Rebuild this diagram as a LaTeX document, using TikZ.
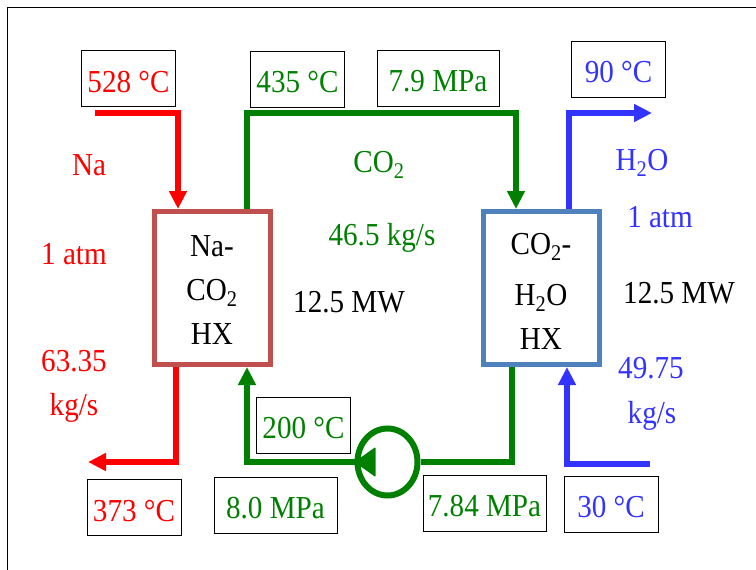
\documentclass[tikz,border=0pt]{standalone}
\usepackage{fontspec}
\setmainfont{Liberation Serif}[FakeStretch=0.91]
\usetikzlibrary{arrows.meta,shapes.geometric}
\definecolor{naRed}{RGB}{255,0,0}
\definecolor{coGreen}{RGB}{0,128,0}
\definecolor{waterBlue}{RGB}{51,51,255}
\definecolor{hxRed}{RGB}{192,80,77}
\definecolor{hxBlue}{RGB}{79,129,189}

\begin{document}
\begin{tikzpicture}[x=1pt,y=-1pt, every node/.style={font=\fontsize{32}{44}\selectfont, inner sep=0pt},
	valbox/.style={draw=black, line width=1pt, minimum height=56pt, text height=28pt},
	hxbox/.style={draw, line width=5pt, minimum width=116pt, minimum height=153pt, align=center},
	flow/.style={line width=6pt},
	flowarrow/.style={flow, -{Triangle[length=18pt,width=17pt]}},]
\useasboundingbox (0,0) rectangle (756,570);
\draw[line width=1pt] (7,570) -- (7,7) -- (756,7);

\node[hxbox, draw=hxRed, text height=113pt] (naHX) at (212,288) {Na-\\CO\textsubscript{2}\\HX};
\node[hxbox, draw=hxBlue, text height=123pt] (coHX) at (541,288) {CO\textsubscript{2}-\\[7pt]H\textsubscript{2}O\\HX};
\node[ellipse, draw=coGreen, line width=6pt, minimum width=60pt, minimum height=67pt] (pump) at (387.5,462) {};

\node[valbox, text=naRed, minimum width=94pt] (naInT) at (128.5,78.5) {528 °C};
\node[valbox, text=naRed, minimum width=94pt] (naOutT) at (134,507.5) {373 °C};
\node[valbox, text=coGreen, minimum width=94pt] (coHotT) at (297.5,79) {435 °C};
\node[valbox, text=coGreen, minimum width=122pt] (coHotP) at (438,78) {7.9 MPa};
\node[valbox, text=coGreen, minimum width=94pt] (coColdT) at (303.5,425) {200 °C};
\node[valbox, text=coGreen, minimum width=123pt] (coColdP) at (275.5,505) {8.0 MPa};
\node[valbox, text=coGreen, minimum width=123pt] (coPumpP) at (484.5,503) {7.84 MPa};
\node[valbox, text=waterBlue, minimum width=94pt] (waterOutT) at (618.5,69) {90 °C};
\node[valbox, text=waterBlue, minimum width=94pt] (waterInT) at (611,504) {30 °C};

\node[text=naRed] (naName) at (89,165) {Na};
\node[text=naRed] (naPres) at (74,254) {1 atm};
\node[text=naRed] (naFlow) at (74,361) {63.35};
\node[text=naRed] (naUnit) at (74,408) {kg/s};
\node[text=coGreen] (coName) at (379,165) {CO\textsubscript{2}};
\node[text=coGreen] (coFlow) at (382,238) {46.5 kg/s};
\node (naPower) at (349,302) {12.5 MW};
\node[text=waterBlue] (waterName) at (642,163) {H\textsubscript{2}O};
\node[text=waterBlue] (waterPres) at (660,217) {1 atm};
\node (coPower) at (679,293) {12.5 MW};
\node[text=waterBlue] (waterFlow) at (651,368) {49.75};
\node[text=waterBlue] (waterUnit) at (652,416) {kg/s};

\coordinate (naStart) at (95,113);
\coordinate (naTurn) at (178,113);
\coordinate (naDrop) at (176,462);
\coordinate (naEnd) at (88,462);
\coordinate (coTopL) at (247,113);
\coordinate (coTopR) at (516,113);
\coordinate (coBotL) at (247,462);
\coordinate (coBotR) at (512,462);
\coordinate (waterTurn) at (569,113);
\coordinate (waterEnd) at (652,113);
\coordinate (waterStart) at (650,464);
\coordinate (waterRise) at (567,464);

\draw[flowarrow, naRed] (naStart) -- (naTurn) -- (naTurn |- naHX.north);
\draw[flowarrow, naRed] (naDrop |- naHX.south) -- (naDrop) -- (naEnd);
\draw[flowarrow, coGreen] (coTopL |- naHX.north) -- (coTopL) -- (coTopR) -- (coTopR |- coHX.north);
\draw[flowarrow, coGreen] (pump.west) -- (coBotL) -- (coBotL |- naHX.south);
\draw[flow, coGreen] (coBotR |- coHX.south) -- (coBotR) -- (pump.east);
\fill[coGreen, rounded corners=1pt] (pump.west) -- ++(21,-15) -- ++(0,30) -- cycle;
\draw[flowarrow, waterBlue] (waterTurn |- coHX.north) -- (waterTurn) -- (waterEnd);
\draw[flowarrow, waterBlue] (waterStart) -- (waterRise) -- (waterRise |- coHX.south);
\end{tikzpicture}
\end{document}
